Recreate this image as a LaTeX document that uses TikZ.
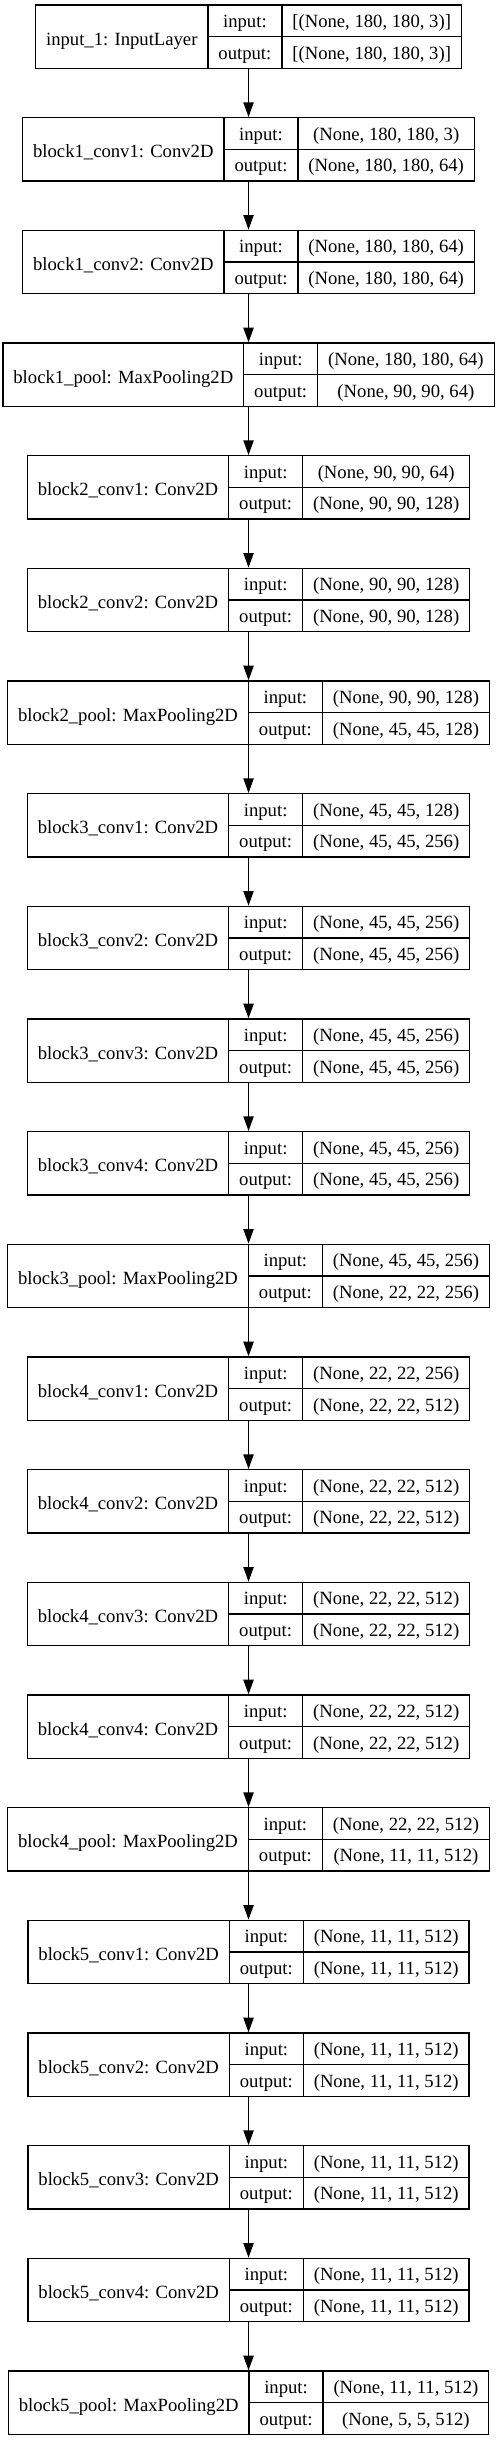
\documentclass[tikz,border=0pt]{standalone}
\usepackage{fontspec}
\setmainfont{Liberation Serif}
\usepackage{tikz}
\usetikzlibrary{arrows.meta,positioning,fit}

\newcommand\lfont{\fontsize{14pt}{17pt}\selectfont}
\newlength\namew
\newlength\labw
\newlength\shapew
\newlength\tmpw
% width of a text in the layer font, also inside a picture
\newcommand\measure[2]{\settowidth#1{\pgfinterruptpicture\lfont #2\endpgfinterruptpicture}}

% one layer record: name | input:/output: | shapes, centred on x=186.4pt
\newcommand\layer[5]{%
  \measure\namew{#2}\addtolength\namew{15.75pt}%
  \measure\labw{output:}\addtolength\labw{15.75pt}%
  \measure\shapew{#3}\measure\tmpw{#4}%
  \ifdim\tmpw>\shapew \shapew=\tmpw \fi
  \addtolength\shapew{15.75pt}%
  \node[namecell, minimum width=\namew] (#1-n)
    at ({186.4pt-0.5\namew-0.5\labw-0.5\shapew}, #5) {#2};
  \node[cell, minimum width=\labw, anchor=north west] (#1-li) at (#1-n.north east) {input:};
  \node[cell, minimum width=\labw, below=0pt of #1-li] (#1-lo) {output:};
  \node[cell, minimum width=\shapew, right=0pt of #1-li] (#1-si) {#3};
  \node[cell, minimum width=\shapew, right=0pt of #1-lo] (#1-so) {#4};
  \node[fit=(#1-n)(#1-so), inner sep=0pt] (#1) {};
}

\begin{document}
\begin{tikzpicture}[
    font=\lfont,
    line width=1pt,
    namecell/.style={rectangle, draw, anchor=north west, inner sep=0pt, outer sep=0pt,
        minimum height=47.6pt, text height=12.4pt, text depth=0pt},
    cell/.style={rectangle, draw, inner sep=0pt, outer sep=0pt,
        minimum height=23.8pt, text height=10pt, text depth=0pt},
    arrow/.style={-{Triangle[length=11pt, width=7.7pt]}, line width=1pt}
]
    \fill[white] (0,0) rectangle (372.75pt,-1830.75pt);
    \useasboundingbox (0,0) rectangle (372.75pt,-1830.75pt);

    \foreach \lname/\lin/\lout [count=\i from 0] in {
        input\_1: InputLayer/{[(None, 180, 180, 3)]}/{[(None, 180, 180, 3)]},
        block1\_conv1: Conv2D/{(None, 180, 180, 3)}/{(None, 180, 180, 64)},
        block1\_conv2: Conv2D/{(None, 180, 180, 64)}/{(None, 180, 180, 64)},
        block1\_pool: MaxPooling2D/{(None, 180, 180, 64)}/{(None, 90, 90, 64)},
        block2\_conv1: Conv2D/{(None, 90, 90, 64)}/{(None, 90, 90, 128)},
        block2\_conv2: Conv2D/{(None, 90, 90, 128)}/{(None, 90, 90, 128)},
        block2\_pool: MaxPooling2D/{(None, 90, 90, 128)}/{(None, 45, 45, 128)},
        block3\_conv1: Conv2D/{(None, 45, 45, 128)}/{(None, 45, 45, 256)},
        block3\_conv2: Conv2D/{(None, 45, 45, 256)}/{(None, 45, 45, 256)},
        block3\_conv3: Conv2D/{(None, 45, 45, 256)}/{(None, 45, 45, 256)},
        block3\_conv4: Conv2D/{(None, 45, 45, 256)}/{(None, 45, 45, 256)},
        block3\_pool: MaxPooling2D/{(None, 45, 45, 256)}/{(None, 22, 22, 256)},
        block4\_conv1: Conv2D/{(None, 22, 22, 256)}/{(None, 22, 22, 512)},
        block4\_conv2: Conv2D/{(None, 22, 22, 512)}/{(None, 22, 22, 512)},
        block4\_conv3: Conv2D/{(None, 22, 22, 512)}/{(None, 22, 22, 512)},
        block4\_conv4: Conv2D/{(None, 22, 22, 512)}/{(None, 22, 22, 512)},
        block4\_pool: MaxPooling2D/{(None, 22, 22, 512)}/{(None, 11, 11, 512)},
        block5\_conv1: Conv2D/{(None, 11, 11, 512)}/{(None, 11, 11, 512)},
        block5\_conv2: Conv2D/{(None, 11, 11, 512)}/{(None, 11, 11, 512)},
        block5\_conv3: Conv2D/{(None, 11, 11, 512)}/{(None, 11, 11, 512)},
        block5\_conv4: Conv2D/{(None, 11, 11, 512)}/{(None, 11, 11, 512)},
        block5\_pool: MaxPooling2D/{(None, 11, 11, 512)}/{(None, 5, 5, 512)}}
        \layer{l\i}{\lname}{\lin}{\lout}{{-3.75pt-84.5pt*\i}};

    % connectors between layers
    \foreach \i [count=\j from 1] in {0,...,20}
        \draw[arrow] (l\i) -- (l\j);
\end{tikzpicture}
\end{document}
